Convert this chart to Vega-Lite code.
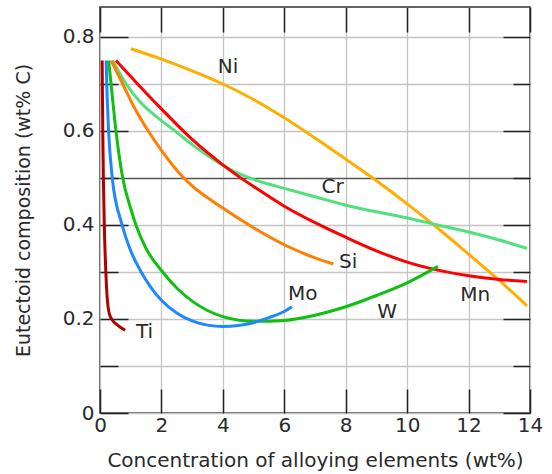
{
  "$schema": "https://vega.github.io/schema/vega-lite/v6.json",
  "width": 430,
  "height": 406,
  "autosize": "none",
  "padding": {"left": 100, "top": 7, "right": 22, "bottom": 61},
  "background": "white",
  "config": {
    "view": {"stroke": "#333333", "strokeWidth": 1.5},
    "font": "DejaVu Sans",
    "axis": {"labelFont": "DejaVu Sans", "titleFont": "DejaVu Sans", "labelColor": "#2a2a2a", "titleColor": "#2a2a2a", "titleFontWeight": "normal", "domain": false, "tickColor": "#222222", "tickWidth": 1.5, "labelFlush": false}
  },
  "datasets": {
    "curves": [
      {"el": "Ni", "x": 1.0, "y": 0.775}, {"el": "Ni", "x": 2, "y": 0.753}, {"el": "Ni", "x": 3, "y": 0.728}, {"el": "Ni", "x": 4, "y": 0.70}, {"el": "Ni", "x": 5, "y": 0.667}, {"el": "Ni", "x": 6, "y": 0.628}, {"el": "Ni", "x": 7, "y": 0.585}, {"el": "Ni", "x": 8, "y": 0.54}, {"el": "Ni", "x": 9, "y": 0.494}, {"el": "Ni", "x": 10, "y": 0.445}, {"el": "Ni", "x": 11, "y": 0.393}, {"el": "Ni", "x": 12, "y": 0.338}, {"el": "Ni", "x": 13, "y": 0.282}, {"el": "Ni", "x": 13.9, "y": 0.228},
      {"el": "Cr", "x": 0.41, "y": 0.75}, {"el": "Cr", "x": 0.85, "y": 0.7}, {"el": "Cr", "x": 1.3, "y": 0.662}, {"el": "Cr", "x": 2, "y": 0.622}, {"el": "Cr", "x": 2.5, "y": 0.597}, {"el": "Cr", "x": 3, "y": 0.571}, {"el": "Cr", "x": 3.5, "y": 0.548}, {"el": "Cr", "x": 4, "y": 0.527}, {"el": "Cr", "x": 4.5, "y": 0.51}, {"el": "Cr", "x": 5, "y": 0.497}, {"el": "Cr", "x": 6, "y": 0.478}, {"el": "Cr", "x": 7, "y": 0.46}, {"el": "Cr", "x": 8, "y": 0.442}, {"el": "Cr", "x": 9, "y": 0.428}, {"el": "Cr", "x": 10, "y": 0.415}, {"el": "Cr", "x": 11, "y": 0.4}, {"el": "Cr", "x": 12, "y": 0.385}, {"el": "Cr", "x": 13, "y": 0.368}, {"el": "Cr", "x": 13.9, "y": 0.35},
      {"el": "Mn", "x": 0.52, "y": 0.75}, {"el": "Mn", "x": 1, "y": 0.716}, {"el": "Mn", "x": 1.5, "y": 0.681}, {"el": "Mn", "x": 2, "y": 0.647}, {"el": "Mn", "x": 3, "y": 0.582}, {"el": "Mn", "x": 4, "y": 0.528}, {"el": "Mn", "x": 4.5, "y": 0.504}, {"el": "Mn", "x": 5, "y": 0.482}, {"el": "Mn", "x": 6, "y": 0.44}, {"el": "Mn", "x": 7, "y": 0.405}, {"el": "Mn", "x": 8, "y": 0.374}, {"el": "Mn", "x": 9, "y": 0.345}, {"el": "Mn", "x": 10, "y": 0.321}, {"el": "Mn", "x": 11, "y": 0.304}, {"el": "Mn", "x": 12, "y": 0.292}, {"el": "Mn", "x": 13, "y": 0.284}, {"el": "Mn", "x": 13.9, "y": 0.28},
      {"el": "Si", "x": 0.36, "y": 0.75}, {"el": "Si", "x": 0.74, "y": 0.7}, {"el": "Si", "x": 1.1, "y": 0.652}, {"el": "Si", "x": 1.57, "y": 0.6}, {"el": "Si", "x": 2, "y": 0.559}, {"el": "Si", "x": 2.7, "y": 0.502}, {"el": "Si", "x": 3, "y": 0.483}, {"el": "Si", "x": 4, "y": 0.436}, {"el": "Si", "x": 5, "y": 0.394}, {"el": "Si", "x": 6, "y": 0.358}, {"el": "Si", "x": 7, "y": 0.33}, {"el": "Si", "x": 7.6, "y": 0.317},
      {"el": "W", "x": 0.28, "y": 0.75}, {"el": "W", "x": 0.36, "y": 0.7}, {"el": "W", "x": 0.52, "y": 0.6}, {"el": "W", "x": 0.74, "y": 0.5}, {"el": "W", "x": 1.0, "y": 0.435}, {"el": "W", "x": 1.17, "y": 0.4}, {"el": "W", "x": 1.5, "y": 0.35}, {"el": "W", "x": 2.04, "y": 0.3}, {"el": "W", "x": 2.5, "y": 0.266}, {"el": "W", "x": 3, "y": 0.238}, {"el": "W", "x": 3.5, "y": 0.218}, {"el": "W", "x": 4, "y": 0.205}, {"el": "W", "x": 5, "y": 0.195}, {"el": "W", "x": 6, "y": 0.197}, {"el": "W", "x": 7, "y": 0.208}, {"el": "W", "x": 8, "y": 0.226}, {"el": "W", "x": 9, "y": 0.25}, {"el": "W", "x": 10, "y": 0.277}, {"el": "W", "x": 11, "y": 0.312},
      {"el": "Mo", "x": 0.2, "y": 0.75}, {"el": "Mo", "x": 0.22, "y": 0.7}, {"el": "Mo", "x": 0.28, "y": 0.6}, {"el": "Mo", "x": 0.4, "y": 0.5}, {"el": "Mo", "x": 0.72, "y": 0.4}, {"el": "Mo", "x": 1.0, "y": 0.345}, {"el": "Mo", "x": 1.34, "y": 0.3}, {"el": "Mo", "x": 1.65, "y": 0.268}, {"el": "Mo", "x": 2, "y": 0.24}, {"el": "Mo", "x": 2.5, "y": 0.213}, {"el": "Mo", "x": 3, "y": 0.196}, {"el": "Mo", "x": 3.5, "y": 0.187}, {"el": "Mo", "x": 4, "y": 0.184}, {"el": "Mo", "x": 4.5, "y": 0.186}, {"el": "Mo", "x": 5, "y": 0.192}, {"el": "Mo", "x": 5.5, "y": 0.203}, {"el": "Mo", "x": 6, "y": 0.216}, {"el": "Mo", "x": 6.25, "y": 0.226},
      {"el": "Ti", "x": 0.07, "y": 0.75}, {"el": "Ti", "x": 0.09, "y": 0.6}, {"el": "Ti", "x": 0.11, "y": 0.5}, {"el": "Ti", "x": 0.14, "y": 0.4}, {"el": "Ti", "x": 0.19, "y": 0.3}, {"el": "Ti", "x": 0.24, "y": 0.24}, {"el": "Ti", "x": 0.3, "y": 0.212}, {"el": "Ti", "x": 0.4, "y": 0.198}, {"el": "Ti", "x": 0.55, "y": 0.188}, {"el": "Ti", "x": 0.82, "y": 0.176}
    ],
    "labels": [
      {"label": "Ni", "x": 4.17, "y": 0.736},
      {"label": "Cr", "x": 7.57, "y": 0.481},
      {"label": "Si", "x": 8.08, "y": 0.321},
      {"label": "Mo", "x": 6.6, "y": 0.253},
      {"label": "W", "x": 9.35, "y": 0.215},
      {"label": "Mn", "x": 12.22, "y": 0.251},
      {"label": "Ti", "x": 1.45, "y": 0.172}
    ]
  },
  "resolve": {"scale": {"x": "independent", "y": "independent"}},
  "layer": [
    {
      "data": {"name": "curves"},
      "mark": {"type": "line", "interpolate": "monotone", "strokeWidth": 3},
      "encoding": {
        "x": {"field": "x", "type": "quantitative", "scale": {"domain": [0, 14], "nice": false},
          "axis": {"orient": "bottom", "values": [0, 2, 4, 6, 8, 10, 12, 14], "grid": true, "gridColor": "#c4c4c4", "gridWidth": 1.3, "tickSize": -24, "labelFontSize": 20, "labelPadding": 26, "title": "Concentration of alloying elements (wt%)", "titleFontSize": 20, "titlePadding": 15}},
        "y": {"field": "y", "type": "quantitative", "scale": {"domain": [0, 0.8638], "nice": false},
          "axis": {"orient": "left", "values": [0, 0.1, 0.2, 0.3, 0.4, 0.5, 0.6, 0.7, 0.8], "grid": true,
            "gridColor": {"condition": {"test": "abs(datum.value - 0.5) < 0.001", "value": "#555555"}, "value": "#c4c4c4"},
            "gridWidth": 1.3,
            "tickSize": {"condition": {"test": "round(datum.value*10) % 2 == 0", "value": -28}, "value": -18},
            "labelExpr": "round(datum.value*10) % 2 == 0 ? (datum.value == 0 ? '0' : format(datum.value, '.1f')) : ''",
            "labelFontSize": 20, "labelPadding": 34,
            "title": "Eutectoid composition (wt% C)", "titleFontSize": 19, "titlePadding": 29}},
        "color": {"field": "el", "type": "nominal", "legend": null,
          "scale": {"domain": ["Ni", "Cr", "Mn", "Si", "W", "Mo", "Ti"], "range": ["#FFAE00", "#50E07E", "#FF0000", "#FF8000", "#10C010", "#1E88FF", "#B00000"]}},
        "detail": {"field": "el"}
      }
    },
    {
      "data": {"name": "labels"},
      "mark": {"type": "text", "font": "DejaVu Sans", "fontSize": 20, "color": "#2a2a2a", "align": "center", "baseline": "middle"},
      "encoding": {
        "x": {"field": "x", "type": "quantitative", "scale": {"domain": [0, 14], "nice": false},
          "axis": {"orient": "top", "values": [0, 2, 4, 6, 8, 10, 12, 14], "grid": false, "labels": false, "title": null, "tickSize": -25}},
        "y": {"field": "y", "type": "quantitative", "scale": {"domain": [0, 0.8638], "nice": false},
          "axis": {"orient": "right", "values": [0, 0.1, 0.2, 0.3, 0.4, 0.5, 0.6, 0.7, 0.8], "grid": false, "labels": false, "title": null,
            "tickSize": {"condition": {"test": "round(datum.value*10) % 2 == 0", "value": -27}, "value": -17}}},
        "text": {"field": "label"}
      }
    }
  ]
}
